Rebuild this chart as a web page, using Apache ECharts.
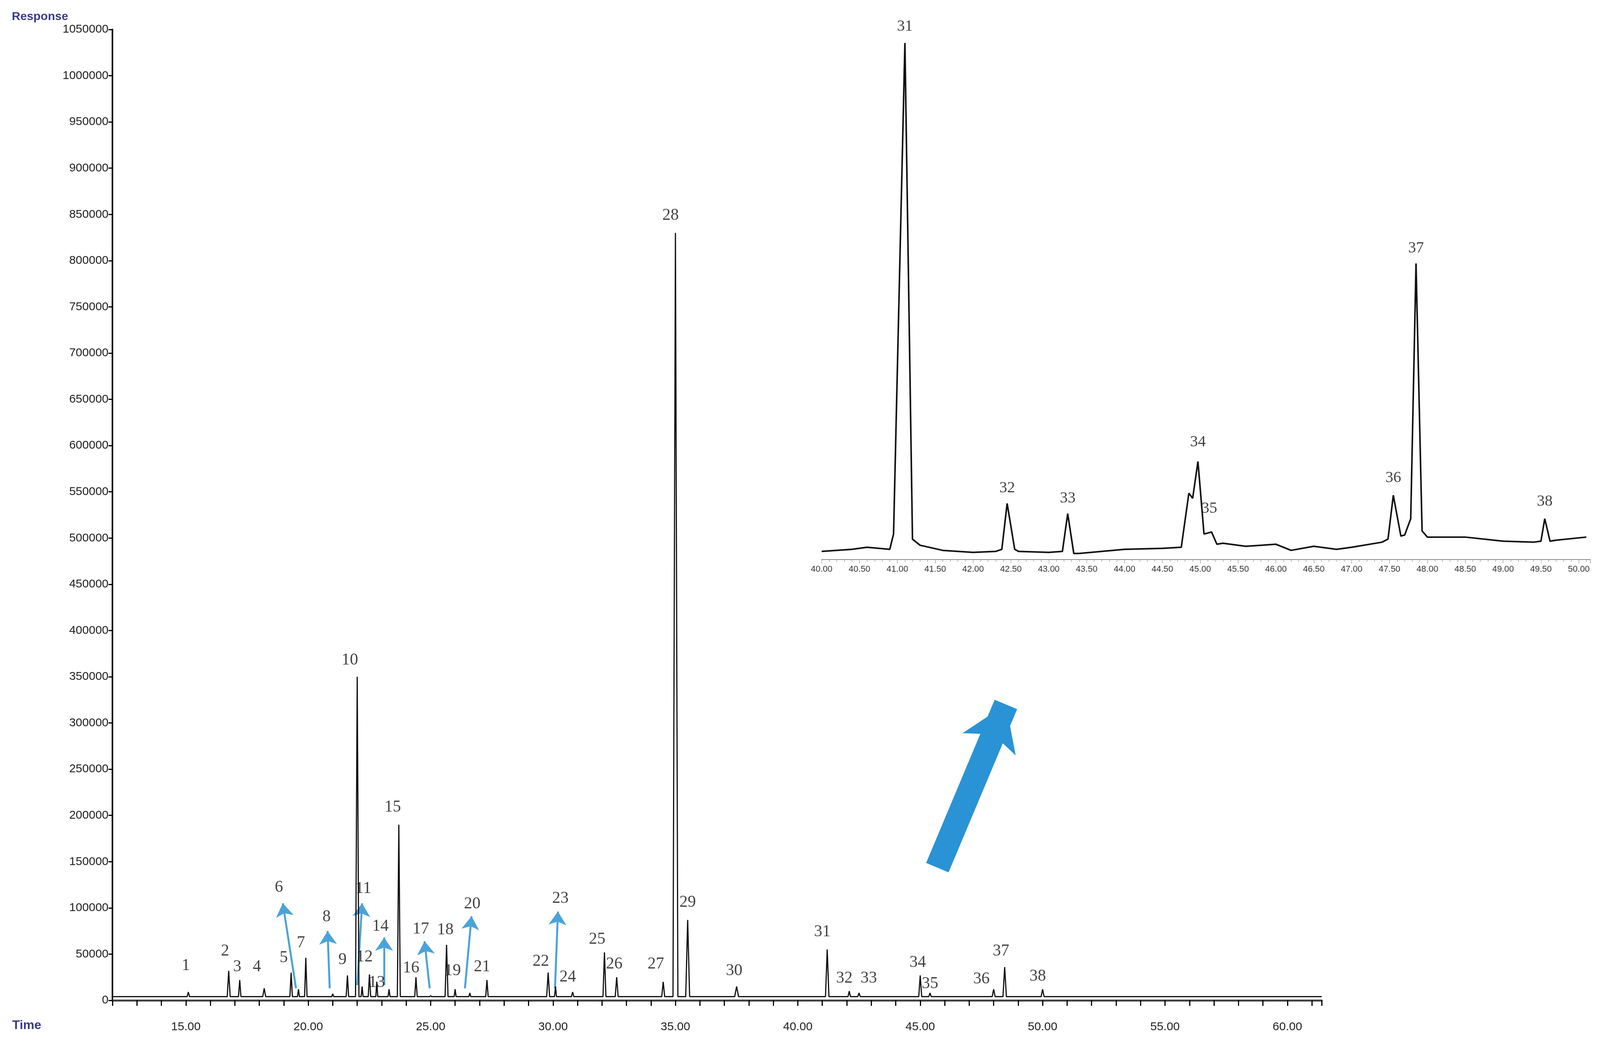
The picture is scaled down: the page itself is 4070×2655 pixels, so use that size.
<!DOCTYPE html>
<html><head><meta charset="utf-8">
<script src="https://cdn.jsdelivr.net/npm/echarts@6/dist/echarts.min.js"></script>
<style>html,body{margin:0;background:#fff}#c{width:4070px;height:2655px}</style>
</head><body><div id="c"></div>
<script>
// main chromatogram peaks: [time, response, halfWidth]
const mainPeaks = [[15.1,9000,0.05],[16.75,32000,0.06],[17.2,22000,0.05],[18.2,13000,0.06],[19.3,30000,0.05],[19.6,12000,0.04],[19.9,46000,0.05],[21.0,7000,0.04],[21.6,27000,0.05],[22.0,350000,0.07],[22.2,15000,0.04],[22.5,28000,0.05],[22.8,20000,0.04],[23.3,12000,0.04],[23.7,190000,0.06],[24.4,25000,0.05],[25.0,5000,0.04],[25.65,60000,0.06],[26.0,12000,0.04],[26.6,8000,0.04],[27.3,22000,0.05],[29.8,30000,0.06],[30.1,15000,0.04],[30.8,9000,0.05],[32.1,52000,0.06],[32.6,25000,0.06],[34.5,20000,0.06],[35.0,830000,0.1],[35.5,87000,0.08],[37.5,15000,0.08],[41.2,55000,0.07],[42.1,10000,0.05],[42.5,8000,0.05],[45.0,27000,0.06],[45.4,8000,0.05],[48.0,12000,0.06],[48.45,36000,0.07],[50.0,12000,0.06]];
const mainBase = 4000;
// labels: [time, response, text]
const mainLabels = [[15.0,37500,'1'],[16.6,53000,'2'],[17.1,36000,'3'],[17.9,36000,'4'],[19.0,46000,'5'],[18.8,122000,'6'],[19.7,62000,'7'],[20.75,90000,'8'],[21.4,44000,'9'],[21.7,368000,'10'],[22.25,121000,'11'],[22.3,47000,'12'],[22.8,19000,'13'],[22.95,80000,'14'],[23.45,209000,'15'],[24.2,35000,'16'],[24.6,77000,'17'],[25.6,76000,'18'],[25.9,32000,'19'],[26.7,104000,'20'],[27.1,36000,'21'],[29.5,42000,'22'],[30.3,110000,'23'],[30.6,25000,'24'],[31.8,66000,'25'],[32.5,39000,'26'],[34.2,39000,'27'],[34.8,849000,'28'],[35.5,106000,'29'],[37.4,32000,'30'],[41.0,74000,'31'],[41.9,24000,'32'],[42.9,24000,'33'],[44.9,41000,'34'],[45.4,18000,'35'],[47.5,23000,'36'],[48.3,53000,'37'],[49.8,26000,'38']];
// small arrows: [t1,v1,t2,v2]
const smallArrows = [[19.5,13000,18.96,105000],[20.875,13000,20.79,75000],[22.0,16500,22.2,105000],[23.1,16500,23.1,68000],[24.96,13000,24.75,64000],[26.4,13000,26.67,91000],[30.08,13000,30.2,96000]];
const bigArrow = [45.7,143500,48.5,320000];
const yTicks = {min:0, max:1050000, interval:50000};
const xTicks = {min:12, max:61.4, interval:1};
// inset: baseline points [t,v] and peaks [t,v]
const insetBase = [[40.0,8],[40.4,10],[40.6,12],[40.9,10],[41.3,14],[41.6,9],[42.0,7],[42.3,8],[42.6,8],[43.0,7],[43.4,6],[43.7,8],[44.0,10],[44.5,11],[44.75,12],[45.3,16],[45.6,13],[45.8,14],[46.0,15],[46.2,9],[46.5,13],[46.8,10],[47.0,12],[47.4,17],[47.7,24],[48.0,22],[48.5,22],[49.0,18],[49.4,17],[49.7,19],[50.1,22]];
const insetPeaks = [[40.95,25],[41.1,506],[41.2,20],[42.38,10],[42.45,55],[42.55,10],[43.18,8],[43.25,45],[43.33,6],[44.85,65],[44.9,60],[44.97,96],[45.05,25],[45.15,27],[45.22,15],[47.48,20],[47.55,63],[47.65,23],[47.78,40],[47.85,290],[47.93,28],[49.5,18],[49.55,40],[49.62,18]];
const insetLabels = [[41.1,522,'31'],[42.45,70,'32'],[43.25,60,'33'],[44.97,115,'34'],[45.12,50,'35'],[47.55,80,'36'],[47.85,305,'37'],[49.55,57,'38']];

const trace = [[xTicks.min, mainBase]];
mainPeaks.forEach(p=>{trace.push([p[0]-p[2],mainBase]);trace.push([p[0],p[1]]);trace.push([p[0]+p[2],mainBase]);});
trace.push([xTicks.max, mainBase]);
const inset = insetBase.concat(insetPeaks).sort((a,b)=>a[0]-b[0]);

const serif = 'Liberation Serif';
const chart = echarts.init(document.getElementById('c'));
chart.setOption({
  animation:false,
  grid:[{left:286,right:708,top:75,bottom:111,containLabel:false},{left:2090,right:25,top:21,bottom:1232}],
  xAxis:[{type:'value',gridIndex:0,min:xTicks.min,max:xTicks.max,interval:xTicks.interval,offset:31,
    axisLine:{lineStyle:{color:'#444',width:5}},axisTick:{length:14,lineStyle:{color:'#000',width:3}},
    splitLine:{show:false},
    axisLabel:{fontSize:30,color:'#222',fontFamily:'Liberation Sans',margin:22,
      formatter:v=>(Math.abs(v%5)<1e-6)?v.toFixed(2):''}},
   {type:'value',gridIndex:1,min:40,max:50.15,interval:0.5,
    axisLine:{lineStyle:{color:'#888',width:2}},axisTick:{length:10,lineStyle:{color:'#888'}},
    minorTick:{show:true,splitNumber:5,length:6,lineStyle:{color:'#888'}},splitLine:{show:false},
    axisLabel:{fontSize:22,color:'#333',fontFamily:'Liberation Sans',margin:14,formatter:v=>v.toFixed(2)}}],
  yAxis:[{type:'value',gridIndex:0,min:yTicks.min,max:yTicks.max,interval:yTicks.interval,
    axisLine:{show:true,lineStyle:{color:'#000',width:4}},axisTick:{show:true,length:10,lineStyle:{color:'#000',width:3}},
    splitLine:{show:false},axisLabel:{fontSize:30,color:'#222',fontFamily:'Liberation Sans',margin:10,formatter:v=>String(v)}},
   {type:'value',gridIndex:1,min:0,max:540,show:false}],
  graphic:[
    {type:'text',left:30,top:28,style:{text:'Response',fontSize:30,fontWeight:'bold',fill:'#3b3b8a',fontFamily:'Liberation Sans'}},
    {type:'text',left:31,top:2592,style:{text:'Time',fontSize:32,fontWeight:'bold',fill:'#3b3b8a',fontFamily:'Liberation Sans'}}
  ],
  series:[
    {type:'line',xAxisIndex:0,yAxisIndex:0,data:trace,symbol:'none',lineStyle:{color:'#111',width:3}},
    {type:'line',xAxisIndex:1,yAxisIndex:1,data:inset,symbol:'none',lineStyle:{color:'#111',width:4}},
    {type:'scatter',xAxisIndex:0,yAxisIndex:0,symbolSize:0,data:mainLabels,
      label:{show:true,position:'inside',formatter:p=>p.value[2],fontSize:42,color:'#111',fontFamily:serif}},
    {type:'scatter',xAxisIndex:1,yAxisIndex:1,symbolSize:0,data:insetLabels,
      label:{show:true,position:'inside',formatter:p=>p.value[2],fontSize:40,color:'#111',fontFamily:serif}},
    {type:'lines',coordinateSystem:'cartesian2d',xAxisIndex:0,yAxisIndex:0,symbol:['none','arrow'],symbolSize:34,
      lineStyle:{color:'#4aa3d8',width:5,opacity:1,curveness:0},
      data:smallArrows.map(a=>({coords:[[a[0],a[1]],[a[2],a[3]]]}))},
    {type:'lines',coordinateSystem:'cartesian2d',xAxisIndex:0,yAxisIndex:0,symbol:['none','arrow'],symbolSize:[120,110],
      lineStyle:{color:'#2a93d5',width:62,opacity:1,curveness:0},
      data:[{coords:[[bigArrow[0],bigArrow[1]],[bigArrow[2],bigArrow[3]]]}]}
  ]
});
</script></body></html>
